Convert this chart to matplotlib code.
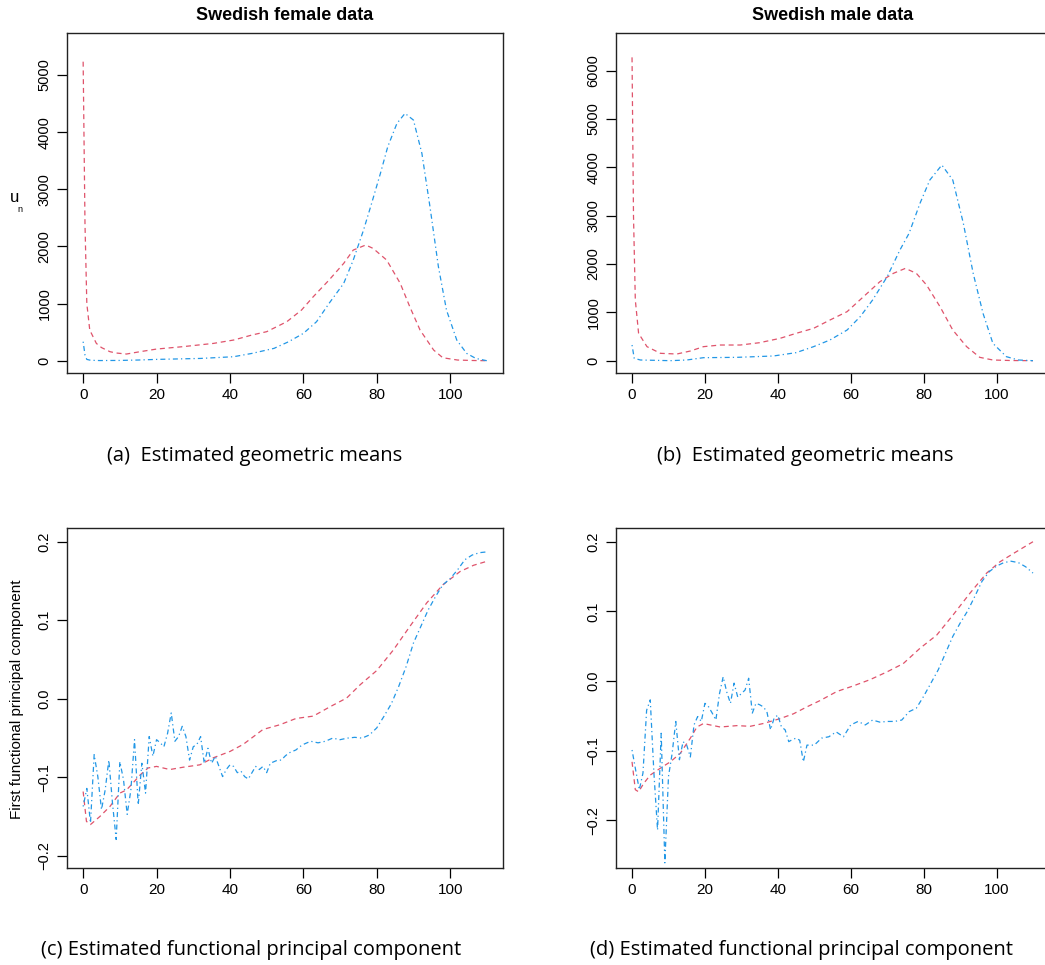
import numpy as np
import matplotlib
matplotlib.use("Agg")
from matplotlib import pyplot as plt

# geometric means, female
f_mean_age_r = [0, 0.5, 1, 1.8, 3.6, 5, 7.3, 9, 11.8, 15.5, 20, 27, 35.5, 41, 46, 50, 55.5, 59.5,
                62.7, 67, 71, 73.6, 77, 79, 82.7, 86.4, 89, 91.8, 95.5, 98, 102, 106, 110]
f_mean_r = [5234, 2400, 1000, 537, 303, 230, 158, 135, 117, 158, 204, 245, 303, 362, 450, 508, 683, 887,
            1120, 1412, 1704, 1937, 2025, 1966, 1762, 1354, 945, 537, 187, 52, 12, 4, 0]
f_mean_age_b = [0, 0.5, 1, 2, 4.5, 10, 15, 20, 32, 41, 46, 52, 56, 60, 63.6, 67, 71, 73.6, 76.4,
                78.6, 81, 83, 85.5, 87.7, 90, 92.3, 94.5, 96.8, 99, 101.8, 104.5, 107, 110]
f_mean_b = [333, 100, 23, 8, 3, 5, 12, 23, 40, 70, 128, 216, 333, 478, 683, 1003, 1354, 1762, 2287,
            2754, 3279, 3746, 4154, 4329, 4212, 3629, 2695, 1645, 887, 362, 128, 40, 0]

# geometric means, male
m_mean_age_r = [0, 0.4, 0.9, 1.8, 4.1, 7.8, 12.3, 16, 19.6, 24.2, 29.7, 35, 40.6, 45, 49.8, 54.3, 59,
                63.5, 68, 71.7, 75, 78, 80.8, 84.5, 88, 91.8, 95.4, 99, 104, 110]
m_mean_r = [6276, 3000, 1255, 565, 290, 152, 138, 200, 290, 324, 324, 372, 462, 565, 669, 841, 1014,
            1324, 1634, 1807, 1910, 1807, 1566, 1117, 634, 290, 69, 14, 3, 0]
m_mean_age_b = [0, 0.6, 2.3, 10.5, 15, 19.6, 28.8, 38.8, 45, 49.8, 54.3, 59, 62.6, 66, 70, 73.5, 76,
                79, 81.7, 85, 88, 90.9, 93.6, 96.3, 99, 102.7, 106, 110]
m_mean_b = [324, 48, 14, 0, 14, 62, 69, 97, 166, 290, 428, 634, 910, 1255, 1738, 2290, 2634,
            3255, 3738, 4048, 3738, 2841, 1807, 979, 359, 83, 14, 0]

# first functional principal component, female
f_pc_age_r = [0, 0.9, 2, 4.5, 7.3, 10, 11.8, 13.6, 15.5, 17.7, 20, 23.6, 27.3, 31.8, 35.5, 40, 43.6,
              49, 53.6, 58, 62.7, 67.3, 71.8, 75.5, 80, 84.5, 89, 93.6, 98, 102.7, 106.4, 110]
f_pc_r = [-0.118, -0.156, -0.160, -0.150, -0.137, -0.120, -0.116, -0.107, -0.097, -0.088, -0.086,
          -0.090, -0.087, -0.084, -0.075, -0.067, -0.058, -0.039, -0.033, -0.025, -0.022, -0.010,
          0.001, 0.018, 0.036, 0.062, 0.092, 0.122, 0.145, 0.162, 0.170, 0.175]
f_pc_age_b = list(range(0, 61)) + list(range(62, 111, 2))
f_pc_b = [-0.137, -0.114, -0.158, -0.071, -0.099, -0.141, -0.116, -0.078, -0.133, -0.179,
          -0.080, -0.103, -0.147, -0.116, -0.052, -0.135, -0.082, -0.120, -0.048, -0.073,
          -0.052, -0.056, -0.061, -0.044, -0.018, -0.054, -0.048, -0.035, -0.048, -0.078,
          -0.061, -0.058, -0.048, -0.082, -0.063, -0.082, -0.073, -0.086, -0.099, -0.090,
          -0.084, -0.086, -0.094, -0.092, -0.099, -0.102, -0.094, -0.086, -0.090, -0.086,
          -0.094, -0.082, -0.080, -0.078, -0.078, -0.073, -0.069, -0.067, -0.065, -0.061,
          -0.058, -0.054, -0.056, -0.054, -0.050, -0.052, -0.050, -0.049, -0.050, -0.046,
          -0.037, -0.022, -0.006, 0.016, 0.041, 0.071, 0.092, 0.113, 0.130, 0.145,
          0.153, 0.164, 0.177, 0.183, 0.186, 0.187]

# first functional principal component, male
m_pc_age_r = [0, 0.9, 1.8, 3.2, 5, 7.8, 10.5, 13.2, 16, 17.8, 19.6, 24.2, 28.8, 32.4, 36, 40.6, 44.3,
              48, 51.6, 56.2, 60.7, 65.3, 69.9, 74.4, 79, 83.6, 88.1, 92.7, 97.3, 100.9, 104.6, 110]
m_pc_r = [-0.116, -0.156, -0.159, -0.147, -0.135, -0.125, -0.116, -0.104, -0.082, -0.066, -0.061,
          -0.066, -0.064, -0.065, -0.061, -0.054, -0.047, -0.037, -0.028, -0.015, -0.007, 0.002,
          0.013, 0.025, 0.047, 0.066, 0.095, 0.126, 0.155, 0.171, 0.183, 0.200]
m_pc_age_b = list(range(0, 48)) + list(range(48, 111, 2))
m_pc_b = [-0.099, -0.128, -0.156, -0.132, -0.042, -0.027, -0.132, -0.214, -0.075, -0.261,
          -0.137, -0.104, -0.058, -0.113, -0.087, -0.092, -0.109, -0.063, -0.051, -0.058,
          -0.032, -0.037, -0.046, -0.056, -0.018, 0.006, -0.016, -0.032, -0.003, -0.023,
          -0.018, -0.013, 0.004, -0.046, -0.032, -0.034, -0.037, -0.044, -0.070, -0.053,
          -0.049, -0.066, -0.070, -0.087, -0.084, -0.082, -0.085, -0.116,
          -0.092, -0.092, -0.082, -0.080, -0.073, -0.080, -0.063, -0.058, -0.063, -0.056,
          -0.059, -0.058, -0.058, -0.056, -0.044, -0.039, -0.022, -0.003, 0.016, 0.040,
          0.064, 0.083, 0.100, 0.121, 0.143, 0.157, 0.165, 0.170, 0.172, 0.170, 0.164, 0.155]

titles = ["Swedish female data", "Swedish male data", "", ""]
captions = ["(a)  Estimated geometric means", "(b)  Estimated geometric means",
            "(c) Estimated functional principal component", "(d) Estimated functional principal component"]
mean_ticks_f = [0, 1000, 2000, 3000, 4000, 5000]
mean_ticks_m = [0, 1000, 2000, 3000, 4000, 5000, 6000]
pc_ticks_f = [-0.2, -0.1, 0.0, 0.1, 0.2]
pc_ticks_m = [-0.2, -0.1, 0.0, 0.1, 0.2]
x_ticks = [0, 20, 40, 60, 80, 100]

RED = "#DF536B"
BLUE = "#2297E6"
plt.rcParams['font.family'] = ['Liberation Sans', 'DejaVu Sans']

W, H = 1045, 965
fig = plt.figure(figsize=(W / 100, H / 100), dpi=100)


def make_ax(left, right, top, bottom):
    return fig.add_axes([left / W, (H - bottom) / H, (right - left) / W, (bottom - top) / H])


axes = [make_ax(67, 503, 33, 373), make_ax(616, 1049, 33, 373),
        make_ax(67, 503, 528, 868), make_ax(616, 1049, 528, 868)]
series = [(f_mean_age_r, f_mean_r, f_mean_age_b, f_mean_b),
          (m_mean_age_r, m_mean_r, m_mean_age_b, m_mean_b),
          (f_pc_age_r, f_pc_r, f_pc_age_b, f_pc_b),
          (m_pc_age_r, m_pc_r, m_pc_age_b, m_pc_b)]
ylims = [(-215, 5736), (-255, 6780), (-0.2153, 0.2174), (-0.2684, 0.2197)]
yticks = [mean_ticks_f, mean_ticks_m, pc_ticks_f, pc_ticks_m]
ylabels_fmt = [lambda v: "%d" % v] * 2 + [lambda v: "%.1f" % v] * 2

for i, ax in enumerate(axes):
    ar, r, ab, b = series[i]
    ax.plot(ar, r, color=RED, lw=0.9, dashes=(4, 3))
    ax.plot(ab, b, color=BLUE, lw=0.9, dashes=(1, 2.5, 4, 2.5))
    ax.set_xlim(-4.4, 114.4)
    ax.set_ylim(*ylims[i])
    ax.set_xticks(x_ticks)
    ax.set_xticklabels([str(t) for t in x_ticks], fontsize=11)
    ax.set_yticks(yticks[i])
    ax.set_yticklabels([ylabels_fmt[i](t).replace("-", "\u2212") for t in yticks[i]],
                       fontsize=10.5, rotation=90, va="center")
    ax.tick_params(direction="out", length=7, width=0.9, pad=4)
    for s in ax.spines.values():
        s.set_linewidth(1.0)
        s.set_color("#222222")
    if titles[i]:
        ax.set_title(titles[i], fontsize=13, fontweight="bold", pad=9)

# odd y label of panel (a)
fig.text(15 / W, 1 - 197 / H, "u", fontsize=12, ha="center", va="center")
fig.text(19.5 / W, 1 - 209 / H, "n", fontsize=6.5, ha="center", va="center")
fig.text(17 / W, 1 - 699 / H, "First functional principal component", fontsize=11,
         rotation=90, ha="center", va="center")

cap_xy = [(255, 456), (805, 456), (251, 950), (802, 950)]
for (cx, cy), c in zip(cap_xy, captions):
    fig.text(cx / W, 1 - cy / H, c, fontsize=14.5, family=["Open Sans", "DejaVu Sans"],
             ha="center", va="center")

fig.savefig("out.png", dpi=100)
